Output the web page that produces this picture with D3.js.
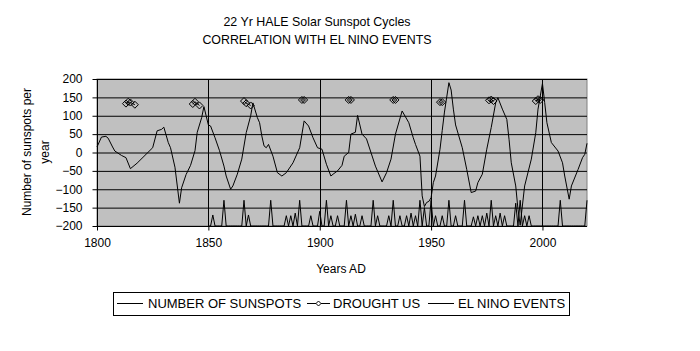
<!DOCTYPE html>
<html>
<head>
<meta charset="utf-8">
<script src="https://cdn.jsdelivr.net/npm/d3@7"></script>
<style>
  body { margin: 0; background: #fff; }
  svg { display: block; font-family: "Liberation Sans", Arial, sans-serif; }
  .axis path, .axis line { stroke: #000; }
  .axis text { font-size: 12px; fill: #000; }
</style>
</head>
<body>
<div id="chart"></div>
<script>
// Hale cycle sunspot curve with US drought markers and El Nino spikes.
const titleLines = ["22 Yr HALE Solar Sunspot Cycles", "CORRELATION WITH EL NINO EVENTS"];
const xTicks = [1800, 1850, 1900, 1950, 2000];
const yTicks = [-200, -150, -100, -50, 0, 50, 100, 150, 200];

const sunYears = [1800, 1802, 1804, 1805, 1807, 1808, 1811, 1813, 1815, 1818, 1822, 1825, 1827, 1829, 1830,
  1832, 1833, 1835, 1837, 1838, 1840, 1842, 1844, 1845, 1847, 1848, 1849, 1850, 1851, 1853, 1855, 1857, 1858,
  1860, 1861, 1863, 1865, 1867, 1869, 1870, 1872, 1873, 1874, 1875, 1876, 1877, 1879, 1881, 1883, 1885, 1888,
  1891, 1893, 1895, 1897, 1899, 1901, 1903, 1905, 1906, 1908, 1910, 1911, 1913, 1914, 1916, 1917, 1919, 1921,
  1925, 1928, 1930, 1932, 1934, 1937, 1940, 1942, 1943, 1945, 1946, 1947, 1948, 1949, 1950, 1951, 1952, 1954,
  1955, 1956, 1958, 1959, 1960, 1961, 1964, 1966, 1968, 1970, 1971, 1973, 1975, 1977, 1979, 1980, 1982, 1984,
  1985, 1986, 1988, 1989, 1990, 1992, 1995, 1997, 1998, 2000, 2001, 2002, 2004, 2007, 2009, 2010, 2012, 2013,
  2016, 2018, 2019, 2020];
const sunValues = [15, 42, 44, 39, 15, 4, -8, -14, -44, -29, -5, 13, 59, 63, 69,
  27, 13, -40, -138, -96, -60, -35, 5, 55, 95, 125, 100, 75, 72, 40, 5, -37, -64,
  -100, -91, -59, -18, 54, 100, 135, 95, 81, 45, 18, 13, 22, -10, -55, -64, -55, -28,
  13, 86, 72, 40, 13, 9, -32, -64, -59, -50, -35, -10, 0, 50, 55, 101, 50, 37,
  -37, -80, -55, -18, 50, 113, 81, 40, 22, -10, -118, -147, -136, -133, -123, -82, -64, 9,
  60, 110, 190, 170, 118, 75, 13, -46, -109, -105, -82, -59, 9, 68, 135, 149, 118, 90,
  36, -28, -91, -154, -198, -91, -18, 54, 118, 188, 136, 81, 27, 4, -28, -64, -127, -91,
  -46, -14, -5, 25];

const droughtYears = [1813, 1814, 1815, 1817, 1843, 1844, 1846, 1866, 1867, 1869, 1892, 1893, 1913, 1914,
  1933, 1934, 1954, 1955, 1976, 1977, 1978, 1997, 1998, 1999];
const droughtValues = [133, 138, 136, 130, 132, 138, 128, 140, 134, 128, 143, 143, 143, 143,
  143, 143, 137, 137, 142, 144, 140, 140, 145, 143];

const ninoStart = 1850, ninoEnd = 2020, ninoBase = -200;
const ninoYears = [1852, 1857, 1866, 1868, 1878, 1885, 1887, 1889, 1891, 1896, 1900, 1903, 1905, 1908,
  1912, 1914, 1916, 1919, 1924, 1926, 1931, 1933, 1936, 1939, 1941, 1943, 1945, 1947, 1950, 1952, 1955,
  1958, 1961, 1965, 1969, 1971, 1973, 1975, 1977, 1979, 1981, 1983, 1988, 1990, 1992, 1994, 2008, 2020];
const ninoValues = [-170, -130, -130, -170, -130, -172, -172, -165, -130, -172, -160, -130, -172, -172,
  -130, -172, -168, -172, -130, -172, -172, -130, -172, -172, -165, -172, -130, -150, -130, -172, -172,
  -130, -172, -130, -175, -172, -172, -165, -130, -172, -165, -172, -138, -130, -172, -172, -130, -130];

const legendLabels = ["NUMBER OF SUNSPOTS", "DROUGHT US", "EL NINO EVENTS"];

const width = 700, height = 351;
const pl = 97, pr = 587, pt = 79, pb = 226;

const svg = d3.select("#chart").append("svg").attr("width", width).attr("height", height);
const x = d3.scaleLinear([1800, 2020], [pl, pr]);
const y = d3.scaleLinear([-200, 200], [pb, pt]);

// Title
svg.append("g").selectAll("text").data(titleLines).join("text")
  .attr("x", 317).attr("y", (d, i) => 26 + i * 18).attr("text-anchor", "middle")
  .style("font-size", "12.4px").text((d) => d);

// Plot area + grid
svg.append("rect").attr("x", pl).attr("y", pt).attr("width", pr - pl).attr("height", pb - pt)
  .attr("fill", "#c0c0c0").attr("stroke", "#808080");
svg.append("g").selectAll("line").data(yTicks.filter((d) => d > -200)).join("line")
  .attr("x1", pl).attr("x2", pr).attr("y1", (d) => y(d) + 0.5).attr("y2", (d) => y(d) + 0.5)
  .attr("stroke", "#000");
svg.append("g").selectAll("line").data(xTicks.filter((d) => d > 1800)).join("line")
  .attr("x1", (d) => Math.round(x(d)) + 0.5).attr("x2", (d) => Math.round(x(d)) + 0.5)
  .attr("y1", pt).attr("y2", pb).attr("stroke", "#000");

// Axes
svg.append("g").attr("class", "axis").attr("transform", `translate(${pl + 0.5},0)`)
  .call(d3.axisLeft(y).tickValues(yTicks).tickSize(5).tickPadding(10).tickFormat(d3.format("d")))
  .call((g) => g.select(".domain").attr("d", `M0,${pt}V${pb}`));
svg.append("g").attr("class", "axis").attr("transform", `translate(0,${pb + 0.5})`)
  .call(d3.axisBottom(x).tickValues(xTicks).tickSize(4).tickPadding(8).tickFormat(d3.format("d")))
  .call((g) => g.select(".domain").attr("d", `M${pl},0H${pr}`));

svg.append("text").attr("text-anchor", "middle").style("font-size", "12px")
  .attr("transform", "translate(31,152) rotate(-90)").text("Number of sunspots per");
svg.append("text").attr("text-anchor", "middle").style("font-size", "12px")
  .attr("transform", "translate(49,152) rotate(-90)").text("year");
svg.append("text").attr("text-anchor", "middle").style("font-size", "12px")
  .attr("x", 341).attr("y", 273).text("Years AD");

// El Nino spikes: yearly series, baseline where no event
const ninoSeries = d3.range(ninoStart, ninoEnd + 1).map((yr) => {
  const k = ninoYears.indexOf(yr);
  return [yr, k >= 0 ? ninoValues[k] : ninoBase];
});
const line = d3.line().x((d) => x(d[0])).y((d) => y(d[1]));
svg.append("path").datum(ninoSeries).attr("d", line)
  .attr("fill", "none").attr("stroke", "#000").attr("stroke-width", 1);

// Sunspot curve
const sun = sunYears.map((yr, i) => [yr, sunValues[i]]);
svg.append("path").datum(sun).attr("d", line)
  .attr("fill", "none").attr("stroke", "#000").attr("stroke-width", 1);

// Drought: short connected runs with diamond markers
const drought = droughtYears.map((yr, i) => [yr, droughtValues[i]]);
const runs = [];
drought.forEach((d, i) => {
  if (i === 0 || d[0] - drought[i - 1][0] > 5) runs.push([]);
  runs[runs.length - 1].push(d);
});
svg.append("g").selectAll("path").data(runs).join("path").attr("d", line)
  .attr("fill", "none").attr("stroke", "#000");
const diamond = (r) => `M0,${-r}L${r},0L0,${r}L${-r},0Z`;
svg.append("g").selectAll("path").data(drought).join("path")
  .attr("transform", (d) => `translate(${x(d[0])},${y(d[1])})`)
  .attr("d", diamond(3.5)).attr("fill", "none").attr("stroke", "#000");

// Legend
const lg = svg.append("g");
lg.append("rect").attr("x", 113.5).attr("y", 292.5).attr("width", 456).attr("height", 23)
  .attr("fill", "#fff").attr("stroke", "#000");
const legendX = [[117, 143, 148], [307, 330, 333], [428, 454, 458]];
legendLabels.forEach((lab, i) => {
  const [x1, x2, tx] = legendX[i];
  lg.append("line").attr("x1", x1).attr("x2", x2).attr("y1", 303.5).attr("y2", 303.5).attr("stroke", "#000");
  lg.append("text").attr("x", tx).attr("y", 308).style("font-size", "13px").text(lab);
});
lg.append("path").attr("transform", "translate(318.5,303.5)").attr("d", diamond(2.5))
  .attr("fill", "#fff").attr("stroke", "#000");
</script>
</body>
</html>
